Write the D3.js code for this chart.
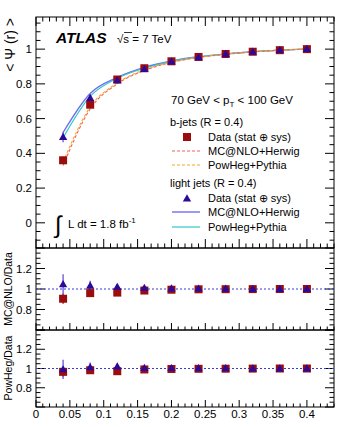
<!DOCTYPE html>
<html>
<head>
<meta charset="utf-8">
<script src="https://cdn.jsdelivr.net/npm/d3@7"></script>
<style>
  html, body { margin: 0; padding: 0; background: #fff; }
  text { font-family: "Liberation Sans", Arial, sans-serif; }
</style>
</head>
<body>
<script>
// Jet shape <Psi(r)> for b-jets and light jets, with MC/Data ratio panels.

// ---------------------------------------------------------------------------
// Data
// ---------------------------------------------------------------------------

const rVals = [0.04, 0.08, 0.12, 0.16, 0.20, 0.24, 0.28, 0.32, 0.36, 0.40];

const bData = [0.36, 0.68, 0.825, 0.89, 0.93, 0.955, 0.972, 0.985, 0.994, 1.0];
const bErr = [0.02, 0.02, 0.012, 0.008, 0.006, 0.005, 0.004, 0.003, 0.002, 0.001];
const lightData = [0.494, 0.718, 0.82, 0.885, 0.928, 0.953, 0.971, 0.984, 0.994, 1.0];
const lightErr = [0.03, 0.02, 0.012, 0.008, 0.006, 0.005, 0.004, 0.003, 0.002, 0.001];

const mcnloB = [0.33, 0.655, 0.80, 0.877, 0.923, 0.952, 0.970, 0.984, 0.994, 1.0];
const powhegB = [0.35, 0.667, 0.805, 0.882, 0.925, 0.953, 0.971, 0.984, 0.994, 1.0];
const mcnloL = [0.52, 0.745, 0.837, 0.895, 0.932, 0.956, 0.972, 0.985, 0.994, 1.0];
const powhegL = [0.49, 0.728, 0.832, 0.89, 0.93, 0.955, 0.972, 0.985, 0.994, 1.0];

const ratioMcnloB = [0.905, 0.96, 0.965, 0.985, 0.993, 0.997, 0.998, 0.999, 1.0, 1.0];
const ratioMcnloBErr = [0.05, 0.03, 0.02, 0.012, 0.008, 0.006, 0.005, 0.004, 0.003, 0.002];
const ratioMcnloL = [1.045, 1.03, 1.02, 1.01, 1.005, 1.003, 1.002, 1.0, 1.0, 1.0];
const ratioMcnloLErr = [0.1, 0.05, 0.03, 0.015, 0.01, 0.007, 0.005, 0.004, 0.003, 0.002];

const ratioPowhegB = [0.965, 0.982, 0.972, 0.99, 0.995, 0.997, 0.998, 0.999, 1.0, 1.0];
const ratioPowhegBErr = [0.05, 0.03, 0.02, 0.012, 0.008, 0.006, 0.005, 0.004, 0.003, 0.002];
const ratioPowhegL = [0.99, 1.013, 1.02, 1.005, 1.003, 1.002, 1.001, 1.0, 1.0, 1.0];
const ratioPowhegLErr = [0.1, 0.05, 0.03, 0.015, 0.01, 0.007, 0.005, 0.004, 0.003, 0.002];

const xTicks = [0, 0.05, 0.1, 0.15, 0.2, 0.25, 0.3, 0.35, 0.4];
const yMainTicks = [0, 0.2, 0.4, 0.6, 0.8, 1];
const yRatioTicks = [0.8, 1, 1.2];

// ---------------------------------------------------------------------------
// Config
// ---------------------------------------------------------------------------

const W = 340, H = 427;
const C = {
  bData: "#9b0d0d",
  lData: "#2b0a9a",
  lErr: "#6a50d8",
  mcnloB: "#f0605a",
  powhegB: "#f5a623",
  mcnloL: "#6f6ff0",
  powhegL: "#35c8c8",
  unity: "#3a3ad0"
};

const x = d3.scaleLinear().domain([0, 0.44]).range([36, 334]);
const yMain = d3.scaleLinear().domain([-0.145, 1.185]).range([248, 17]);
const yR1 = d3.scaleLinear().domain([0.6, 1.4]).range([330, 248]);
const yR2 = d3.scaleLinear().domain([0.6, 1.4]).range([407, 330]);

const svg = d3.select("body").append("svg").attr("width", W).attr("height", H);
svg.append("rect").attr("width", W).attr("height", H).attr("fill", "#fff");

// ---------------------------------------------------------------------------
// Helpers
// ---------------------------------------------------------------------------

function frame(y, opts) {
  const [x0, x1] = x.range();
  const [yb, yt] = y.range();
  const g = svg.append("g");
  g.append("rect").attr("x", x0).attr("y", yt).attr("width", x1 - x0).attr("height", yb - yt)
    .attr("fill", "none").attr("stroke", "#000").attr("stroke-width", 1);

  // x ticks: major every 0.05, minor every 0.01
  const minor = d3.range(0, 0.4401, 0.01);
  for (const t of minor) {
    const major = Math.abs(Math.round(t * 20) - t * 20) < 1e-6;
    const len = major ? opts.xMajor : opts.xMajor / 2;
    g.append("line").attr("x1", x(t)).attr("x2", x(t)).attr("y1", yb).attr("y2", yb - len).attr("stroke", "#000");
    if (opts.topTicks) {
      g.append("line").attr("x1", x(t)).attr("x2", x(t)).attr("y1", yt).attr("y2", yt + len).attr("stroke", "#000");
    }
  }

  // y ticks
  const [d0, d1] = y.domain();
  const start = Math.ceil(d0 / opts.yMinorStep - 1e-6) * opts.yMinorStep;
  for (let t = start; t <= d1 + 1e-9; t += opts.yMinorStep) {
    const major = Math.abs(Math.round(t / opts.yMajorStep) * opts.yMajorStep - t) < 1e-6;
    const len = major ? 9 : 4.5;
    g.append("line").attr("x1", x0).attr("x2", x0 + len).attr("y1", y(t)).attr("y2", y(t)).attr("stroke", "#000");
    g.append("line").attr("x1", x1).attr("x2", x1 - len).attr("y1", y(t)).attr("y2", y(t)).attr("stroke", "#000");
  }

  for (const t of opts.yLabels) {
    g.append("text").attr("x", x0 - 4).attr("y", y(t)).attr("dy", "0.36em")
      .attr("text-anchor", "end").attr("font-size", 11.5).text(d3.format("~g")(t));
  }
}

function errBars(g, y, vals, errs, color) {
  g.selectAll(null).data(vals).join("line")
    .attr("x1", (d, i) => x(rVals[i])).attr("x2", (d, i) => x(rVals[i]))
    .attr("y1", (d, i) => y(d - errs[i])).attr("y2", (d, i) => y(d + errs[i]))
    .attr("stroke", color).attr("stroke-width", 1.3);
}

function squares(g, y, vals) {
  g.selectAll(null).data(vals).join("rect")
    .attr("x", (d, i) => x(rVals[i]) - 4).attr("y", (d) => y(d) - 4)
    .attr("width", 8).attr("height", 8).attr("fill", C.bData);
}

const triPath = d3.symbol().type(d3.symbolTriangle).size(30);
function triangles(g, y, vals) {
  g.selectAll(null).data(vals).join("path")
    .attr("d", triPath)
    .attr("transform", (d, i) => `translate(${x(rVals[i])},${y(d) + 0.5})`)
    .attr("fill", C.lData);
}

function curve(g, vals, color, dash, width) {
  const line = d3.line().x((d, i) => x(rVals[i])).y((d) => yMain(d)).curve(d3.curveMonotoneX);
  g.append("path").attr("d", line(vals)).attr("fill", "none")
    .attr("stroke", color).attr("stroke-width", width).attr("stroke-dasharray", dash);
}

// ---------------------------------------------------------------------------
// Frames
// ---------------------------------------------------------------------------

frame(yMain, { xMajor: 9, topTicks: true, yMinorStep: 0.05, yMajorStep: 0.2, yLabels: yMainTicks });
frame(yR1, { xMajor: 7, topTicks: false, yMinorStep: 0.05, yMajorStep: 0.2, yLabels: yRatioTicks });
frame(yR2, { xMajor: 7, topTicks: false, yMinorStep: 0.05, yMajorStep: 0.2, yLabels: yRatioTicks });

svg.append("g").selectAll("text").data(xTicks).join("text")
  .attr("x", (d) => x(d)).attr("y", 418).attr("text-anchor", "middle")
  .attr("font-size", 11.5).text((d) => d3.format("~g")(d));

// ---------------------------------------------------------------------------
// Main panel
// ---------------------------------------------------------------------------

const gm = svg.append("g");
curve(gm, mcnloL, C.mcnloL, null, 1.4);
curve(gm, powhegL, C.powhegL, null, 1.2);
curve(gm, mcnloB, C.mcnloB, "3,2", 1.1);
curve(gm, powhegB, C.powhegB, "3,2", 1.1);
errBars(gm, yMain, lightData, lightErr, C.lErr);
errBars(gm, yMain, bData, bErr, C.bData);
squares(gm, yMain, bData);
triangles(gm, yMain, lightData);

// ---------------------------------------------------------------------------
// Ratio panels
// ---------------------------------------------------------------------------

function ratioPanel(y, bv, be, lv, le) {
  const g = svg.append("g");
  g.append("line").attr("x1", x(0)).attr("x2", x(0.44)).attr("y1", y(1)).attr("y2", y(1))
    .attr("stroke", C.unity).attr("stroke-width", 1).attr("stroke-dasharray", "2,2");
  errBars(g, y, bv, be, C.bData);
  errBars(g, y, lv, le, C.lErr);
  squares(g, y, bv);
  triangles(g, y, lv);
}
ratioPanel(yR1, ratioMcnloB, ratioMcnloBErr, ratioMcnloL, ratioMcnloLErr);
ratioPanel(yR2, ratioPowhegB, ratioPowhegBErr, ratioPowhegL, ratioPowhegLErr);

// ---------------------------------------------------------------------------
// Axis titles and labels
// ---------------------------------------------------------------------------

svg.append("text").attr("transform", "translate(15,18) rotate(-90)")
  .attr("text-anchor", "end").attr("font-size", 14).text("< \u03A8 (r) >");
svg.append("text").attr("transform", "translate(12,289) rotate(-90)")
  .attr("text-anchor", "middle").attr("font-size", 10.5).text("MC@NLO/Data");
svg.append("text").attr("transform", "translate(12,368) rotate(-90)")
  .attr("text-anchor", "middle").attr("font-size", 10.5).text("PowHeg/Data");

svg.append("text").attr("x", 56).attr("y", 43).attr("font-size", 15.5)
  .attr("font-weight", "bold").attr("font-style", "italic").text("ATLAS");
const rs = svg.append("text").attr("x", 117).attr("y", 43).attr("font-size", 11.5);
rs.append("tspan").text("\u221As = 7 TeV");
svg.append("line").attr("x1", 124).attr("x2", 132).attr("y1", 32.5).attr("y2", 32.5).attr("stroke", "#000").attr("stroke-width", 0.8);

svg.append("text").attr("x", 55).attr("y", 233).attr("font-size", 24).attr("font-weight", 300).text("\u222B");
const lum = svg.append("text").attr("x", 68).attr("y", 228).attr("font-size", 11.5);
lum.append("tspan").text("L dt = 1.8 fb");
lum.append("tspan").attr("dy", -5).attr("font-size", 8).text("-1");

// ---------------------------------------------------------------------------
// Legend
// ---------------------------------------------------------------------------

const pt = svg.append("text").attr("x", 171).attr("y", 104).attr("font-size", 11.5);
pt.append("tspan").text("70 GeV < p");
pt.append("tspan").attr("dy", 3).attr("font-size", 8).text("T");
pt.append("tspan").attr("dy", -3).text(" < 100 GeV");

const lg = svg.append("g").attr("font-size", 11);
lg.append("text").attr("x", 170).attr("y", 126).text("b-jets (R = 0.4)");
lg.append("rect").attr("x", 183).attr("y", 133).attr("width", 8).attr("height", 8).attr("fill", C.bData);
lg.append("text").attr("x", 208).attr("y", 141).text("Data (stat \u2295 sys)");
lg.append("line").attr("x1", 172).attr("x2", 200).attr("y1", 151).attr("y2", 151)
  .attr("stroke", C.mcnloB).attr("stroke-dasharray", "3,2");
lg.append("text").attr("x", 208).attr("y", 155).text("MC@NLO+Herwig");
lg.append("line").attr("x1", 172).attr("x2", 200).attr("y1", 165).attr("y2", 165)
  .attr("stroke", C.powhegB).attr("stroke-dasharray", "3,2");
lg.append("text").attr("x", 208).attr("y", 169).text("PowHeg+Pythia");
lg.append("text").attr("x", 170).attr("y", 187).text("light jets (R = 0.4)");
lg.append("path").attr("d", triPath).attr("transform", "translate(187,199)").attr("fill", C.lData);
lg.append("text").attr("x", 208).attr("y", 202).text("Data (stat \u2295 sys)");
lg.append("line").attr("x1", 172).attr("x2", 200).attr("y1", 212).attr("y2", 212)
  .attr("stroke", C.mcnloL).attr("stroke-width", 1.4);
lg.append("text").attr("x", 208).attr("y", 216).text("MC@NLO+Herwig");
lg.append("line").attr("x1", 172).attr("x2", 200).attr("y1", 227).attr("y2", 227)
  .attr("stroke", C.powhegL).attr("stroke-width", 1.2);
lg.append("text").attr("x", 208).attr("y", 231).text("PowHeg+Pythia");
</script>
</body>
</html>
